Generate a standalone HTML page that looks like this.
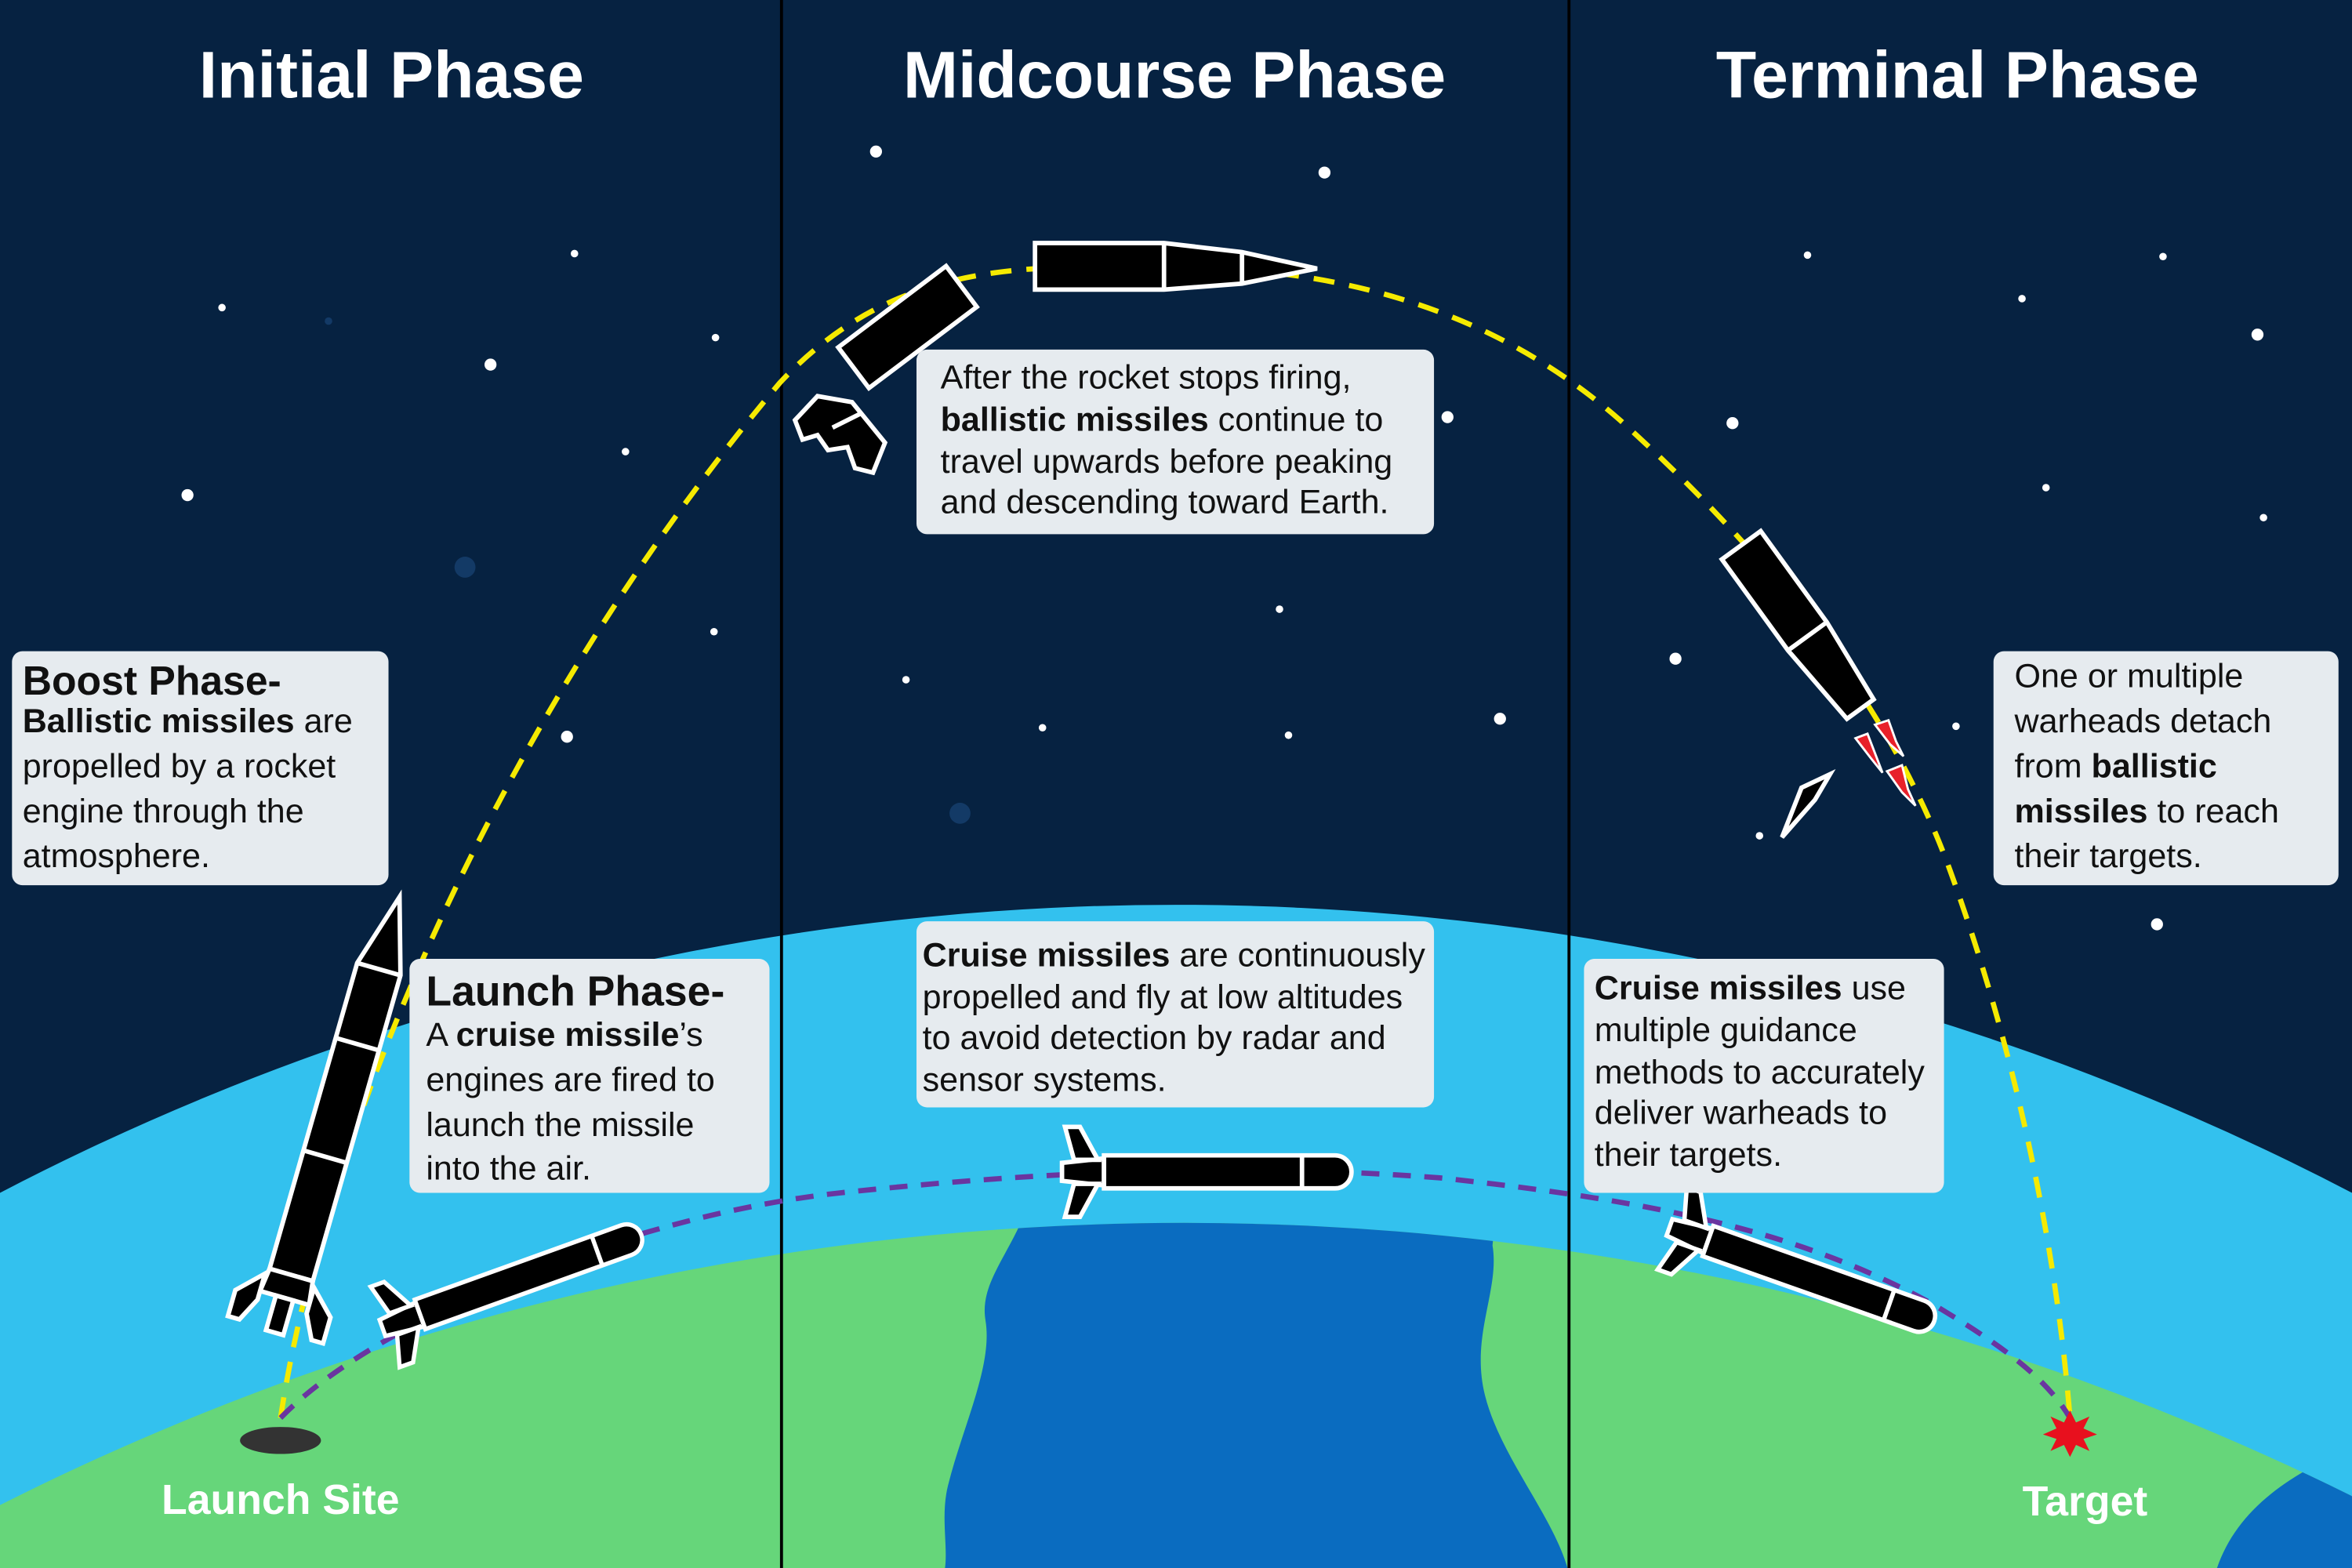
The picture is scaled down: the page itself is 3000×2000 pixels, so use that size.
<!DOCTYPE html>
<html><head><meta charset="utf-8"><style>
html,body{margin:0;padding:0;background:#062241;width:3000px;height:2000px;overflow:hidden;}
svg{display:block;}
text{font-family:"Liberation Sans",sans-serif;}
.t{font-size:22.5px;fill:#111;}
.b{font-weight:bold;}
</style></head><body>
<svg width="3000" height="2000" viewBox="0 0 1568 1045" preserveAspectRatio="none" xmlns="http://www.w3.org/2000/svg">
<defs>
<clipPath id="earth"><circle cx="790" cy="2568" r="1753"/></clipPath>
<g id="cruise">
<polygon points="0,-6 28,-9 28,9 0,6" fill="#000" stroke="#fff" stroke-width="3"/>
<polygon points="8,-8 2,-30 12,-30 24,-8" fill="#000" stroke="#fff" stroke-width="3"/>
<polygon points="8,8 2,30 12,30 24,8" fill="#000" stroke="#fff" stroke-width="3"/>
<path d="M28,-11 L182,-11 A11,11 0 0 1 182,11 L28,11 Z" fill="#000" stroke="#fff" stroke-width="3"/>
<line x1="160" y1="-11" x2="160" y2="11" stroke="#fff" stroke-width="3"/>
</g>
</defs>
<rect width="1568" height="1045" fill="#062241"/>
<g fill="#fff">
<circle cx="148" cy="205" r="2.5"/><circle cx="383" cy="169" r="2.5"/><circle cx="327" cy="243" r="4"/><circle cx="477" cy="225" r="2.5"/>
<circle cx="417" cy="301" r="2.5"/><circle cx="125" cy="330" r="4"/><circle cx="476" cy="421" r="2.5"/><circle cx="378" cy="491" r="4"/>
<circle cx="584" cy="101" r="4"/><circle cx="883" cy="115" r="4"/><circle cx="965" cy="278" r="4"/><circle cx="853" cy="406" r="2.5"/>
<circle cx="604" cy="453" r="2.5"/><circle cx="695" cy="485" r="2.5"/><circle cx="859" cy="490" r="2.5"/><circle cx="1000" cy="479" r="4"/>
<circle cx="1205" cy="170" r="2.5"/><circle cx="1442" cy="171" r="2.5"/><circle cx="1348" cy="199" r="2.5"/><circle cx="1505" cy="223" r="4"/>
<circle cx="1155" cy="282" r="4"/><circle cx="1364" cy="325" r="2.5"/><circle cx="1509" cy="345" r="2.5"/><circle cx="1117" cy="439" r="4"/>
<circle cx="1304" cy="484" r="2.5"/><circle cx="1173" cy="557" r="2.5"/><circle cx="1438" cy="616" r="4"/>
</g>
<g fill="#133a66"><circle cx="310" cy="378" r="7"/><circle cx="640" cy="542" r="7"/><circle cx="219" cy="214" r="2.5"/></g>
<circle cx="784" cy="2300" r="1697" fill="#33c1ee"/>
<circle cx="790" cy="2568" r="1753" fill="#66d67a"/>
<g clip-path="url(#earth)" fill="#0a6cc0">
<path d="M692,780 C682,830 652,850 657,880 C662,910 642,950 632,990 C627,1010 632,1030 630,1045 L1045,1045 C1035,1010 1000,970 990,930 C980,890 1000,860 995,830 L1000,780 Z"/>
<path d="M1478,1045 C1490,1010 1520,985 1568,965 L1568,1045 Z"/>
</g>
<line x1="521" y1="0" x2="521" y2="1045" stroke="#000" stroke-width="2"/>
<line x1="1046" y1="0" x2="1046" y2="1045" stroke="#000" stroke-width="2"/>
<g fill="#fff" font-weight="bold" font-size="44" text-anchor="middle">
<text x="261" y="65">Initial Phase</text>
<text x="783" y="65">Midcourse Phase</text>
<text x="1305" y="65">Terminal Phase</text>
</g>
<path d="M187,945 C215,760 330,480 520,255 C600,170 690,178 780,178 C900,178 1000,210 1080,280 C1180,370 1260,470 1300,580 C1340,690 1370,820 1380,945" fill="none" stroke="#f5ea00" stroke-width="3.5" stroke-dasharray="14,10"/>
<path d="M187,945 C250,880 420,810 560,795 C700,780 830,775 960,785 C1100,800 1200,820 1290,870 C1340,900 1365,920 1380,945" fill="none" stroke="#6a35a0" stroke-width="3.5" stroke-dasharray="12,9"/>
<ellipse cx="187" cy="960" rx="27" ry="9" fill="#333"/>
<polygon points="1380,940 1384,948 1393,944 1389,952 1398,956 1389,959 1393,967 1384,963 1380,971 1376,963 1367,967 1371,959 1362,956 1371,952 1367,944 1376,948" fill="#e8101e"/>
<g fill="#fff" font-weight="bold" font-size="28" text-anchor="middle">
<text x="187" y="1009">Launch Site</text>
<text x="1390" y="1010">Target</text>
</g>
<g transform="translate(225,742) rotate(16)" stroke="#fff" stroke-width="3" fill="#000">
<polygon points="0,-150 15,-100 15,112 -15,112 -15,-100"/>
<line x1="-15" y1="-48" x2="15" y2="-48"/><line x1="-15" y1="30" x2="15" y2="30"/><line x1="-15" y1="-100" x2="15" y2="-100"/>
<polygon points="-15,112 15,112 17,128 -17,128"/>
<polygon points="-17,116 -33,132 -33,150 -25,150 -17,134"/>
<polygon points="17,116 33,132 33,150 25,150 17,134"/>
<polygon points="-6,128 6,128 6,152 -6,152"/>
</g>
<polygon points="690,162 776,162 828,168 878,179 828,189 776,193 690,193" fill="#000" stroke="#fff" stroke-width="3"/>
<line x1="776" y1="162" x2="776" y2="193" stroke="#fff" stroke-width="3"/><line x1="828" y1="168" x2="828" y2="189" stroke="#fff" stroke-width="3"/>
<rect x="-45" y="-17" width="90" height="34" transform="translate(605,218) rotate(-37)" fill="#000" stroke="#fff" stroke-width="3"/>
<polygon points="530,280 545,264 568,268 590,295 582,315 570,312 565,298 552,300 545,290 535,293" fill="#000" stroke="#fff" stroke-width="3"/>
<line x1="555" y1="285" x2="575" y2="275" stroke="#fff" stroke-width="3"/>
<g transform="translate(1202,420) rotate(-36)" stroke="#fff" stroke-width="3" fill="#000">
<polygon points="-16,-70 16,-70 16,5 11,65 -11,65 -16,5"/>
<line x1="-16" y1="5" x2="16" y2="5"/>
</g>
<polygon points="1188,558 1201,525 1220,516 1210,533" fill="#000" stroke="#fff" stroke-width="3"/>
<g fill="#e8202a" stroke="#fff" stroke-width="1.5">
<path d="M1237,492 L1245,489 L1250,502 L1255,515 L1247,505 Z"/>
<path d="M1250,483 L1259,480 L1264,494 L1269,504 L1260,496 Z"/>
<path d="M1258,514 L1268,510 L1272,526 L1277,537 L1268,528 Z"/>
</g>
<use href="#cruise" transform="translate(255,885) rotate(-19.8) scale(0.95)"/>
<use href="#cruise" transform="translate(708,781)"/>
<use href="#cruise" transform="translate(1113,818) rotate(19.5) scale(0.97)"/>
<g fill="#e6ebef">
<rect x="8" y="434" width="251" height="156" rx="7"/>
<rect x="273" y="639" width="240" height="156" rx="7"/>
<rect x="611" y="233" width="345" height="123" rx="7"/>
<rect x="611" y="614" width="345" height="124" rx="7"/>
<rect x="1056" y="639" width="240" height="156" rx="7"/>
<rect x="1329" y="434" width="230" height="156" rx="7"/>
</g>
<text x="15" y="463" font-size="27" class="b" fill="#111">Boost Phase-</text>
<text class="t" x="15" y="488"><tspan class="b">Ballistic missiles</tspan> are</text>
<text class="t" x="15" y="518">propelled by a rocket</text>
<text class="t" x="15" y="548">engine through the</text>
<text class="t" x="15" y="578">atmosphere.</text>
<text x="284" y="670" font-size="28" class="b" fill="#111">Launch Phase-</text>
<text class="t" x="284" y="697">A <tspan class="b">cruise missile</tspan>’s</text>
<text class="t" x="284" y="727">engines are fired to</text>
<text class="t" x="284" y="757">launch the missile</text>
<text class="t" x="284" y="786">into the air.</text>
<text class="t" x="627" y="259">After the rocket stops firing,</text>
<text class="t" x="627" y="287"><tspan class="b">ballistic missiles</tspan> continue to</text>
<text class="t" x="627" y="315">travel upwards before peaking</text>
<text class="t" x="627" y="342">and descending toward Earth.</text>
<text class="t" x="615" y="644"><tspan class="b">Cruise missiles</tspan> are continuously</text>
<text class="t" x="615" y="672">propelled and fly at low altitudes</text>
<text class="t" x="615" y="699">to avoid detection by radar and</text>
<text class="t" x="615" y="727">sensor systems.</text>
<text class="t" x="1063" y="666"><tspan class="b">Cruise missiles</tspan> use</text>
<text class="t" x="1063" y="694">multiple guidance</text>
<text class="t" x="1063" y="722">methods to accurately</text>
<text class="t" x="1063" y="749">deliver warheads to</text>
<text class="t" x="1063" y="777">their targets.</text>
<text class="t" x="1343" y="458">One or multiple</text>
<text class="t" x="1343" y="488">warheads detach</text>
<text class="t" x="1343" y="518">from <tspan class="b">ballistic</tspan></text>
<text class="t" x="1343" y="548"><tspan class="b">missiles</tspan> to reach</text>
<text class="t" x="1343" y="578">their targets.</text>
</svg>
</body></html>
